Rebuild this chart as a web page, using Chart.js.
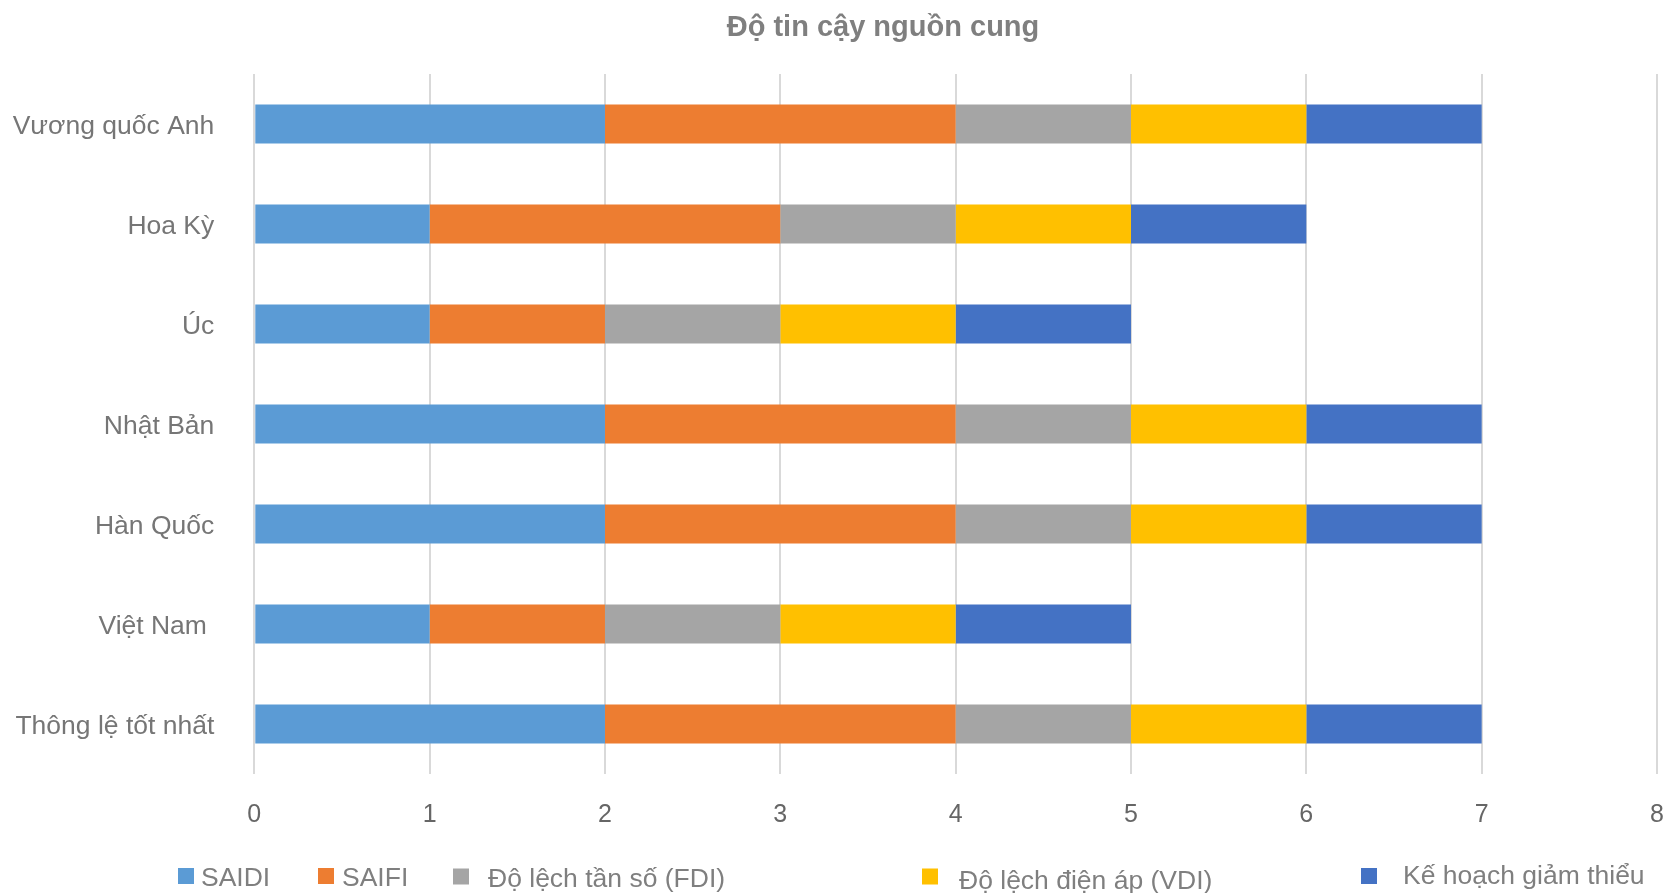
<!DOCTYPE html>
<html lang="vi">
<head>
<meta charset="utf-8">
<title>Độ tin cậy nguồn cung</title>
<script src="https://cdn.jsdelivr.net/npm/chart.js@4/dist/chart.umd.min.js"></script>
<style>
  html, body { margin: 0; padding: 0; background: #ffffff; }
  #wrap { width: 1671px; height: 893px; position: relative; }
</style>
</head>
<body>
<div id="wrap"><canvas id="chart"></canvas></div>
<script>
// Countries, top to bottom
const countries = ['Vương quốc Anh', 'Hoa Kỳ', 'Úc', 'Nhật Bản', 'Hàn Quốc', 'Việt Nam ', 'Thông lệ tốt nhất'];

// Score for each reliability component
const saidi = [2, 1, 1, 2, 2, 1, 2];
const saifi = [2, 2, 1, 2, 2, 1, 2];
const fdi   = [1, 1, 1, 1, 1, 1, 1];
const vdi   = [1, 1, 1, 1, 1, 1, 1];
const mitigation = [1, 1, 1, 1, 1, 1, 1];

const seriesNames = ['SAIDI', 'SAIFI', 'Độ lệch tần số (FDI)', 'Độ lệch điện áp (VDI)', 'Kế hoạch giảm thiểu'];
const seriesColors = ['#5b9bd5', '#ed7d31', '#a5a5a5', '#ffc000', '#4472c4'];
const seriesValues = [saidi, saifi, fdi, vdi, mitigation];

const axisTicks = [0, 1, 2, 3, 4, 5, 6, 7, 8];
const chartTitle = 'Độ tin cậy nguồn cung';

const FONT = '"Liberation Sans", Arial, sans-serif';

// Title above the plot and legend along the bottom edge
const chartDecor = {
  id: 'chartDecor',
  afterDraw(chart) {
    const ctx = chart.ctx;
    ctx.save();
    ctx.font = 'bold 29px ' + FONT;
    ctx.fillStyle = '#7f7f7f';
    ctx.textAlign = 'center';
    ctx.textBaseline = 'middle';
    ctx.fillText(chartTitle, 883, 28);

    const boxX = [178, 318, 453, 922, 1361];
    const textX = [201, 342, 488, 959, 1403];
    const boxY = [876, 876, 876.5, 876.5, 876];
    const textY = [879, 879, 880, 882, 877];
    const size = 16;
    ctx.font = '26.5px ' + FONT;
    ctx.textAlign = 'left';
    chart.data.datasets.forEach((ds, i) => {
      ctx.fillStyle = ds.backgroundColor;
      ctx.fillRect(boxX[i], boxY[i] - size / 2, size, size);
      ctx.fillStyle = '#7f7f7f';
      ctx.fillText(ds.label, textX[i], textY[i]);
    });
    ctx.restore();
  }
};

new Chart(document.getElementById('chart'), {
  type: 'bar',
  data: {
    labels: countries,
    datasets: seriesNames.map((name, i) => ({
      label: name,
      data: seriesValues[i],
      backgroundColor: seriesColors[i],
      borderWidth: 0,
      barPercentage: 0.39,
      categoryPercentage: 1.0
    }))
  },
  options: {
    indexAxis: 'y',
    responsive: true,
    maintainAspectRatio: false,
    animation: false,
    layout: { padding: { left: 0, right: 14, top: 74, bottom: 0 } },
    plugins: {
      legend: { display: false },
      tooltip: { enabled: false },
      title: { display: false }
    },
    scales: {
      x: {
        stacked: true,
        min: axisTicks[0],
        max: axisTicks[axisTicks.length - 1],
        afterBuildTicks(scale) { scale.ticks = axisTicks.map(v => ({ value: v })); },
        afterFit(scale) {
          scale.height = 119;
          scale.paddingLeft = 0;
          scale.paddingRight = 0;
        },
        border: { display: false },
        grid: { color: '#d9d9d9', lineWidth: 2, drawTicks: false },
        ticks: {
          color: '#666666',
          font: { family: FONT, size: 25 },
          padding: 26,
          maxRotation: 0
        }
      },
      y: {
        stacked: true,
        afterFit(scale) {
          scale.width = 254.3;
          scale.paddingTop = 0;
          scale.paddingBottom = 0;
        },
        border: { display: false },
        grid: { display: false, drawTicks: false },
        ticks: {
          color: '#767676',
          font: { family: FONT, size: 26.5 },
          padding: 40,
          labelOffset: 3
        }
      }
    }
  },
  plugins: [chartDecor]
});
</script>
</body>
</html>
